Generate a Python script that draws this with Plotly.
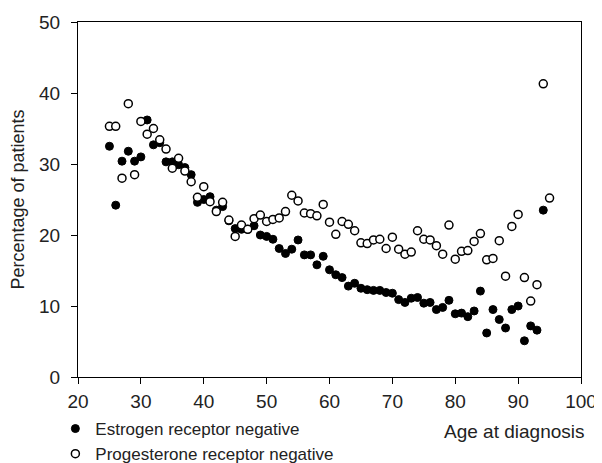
import plotly.graph_objects as go

ages = list(range(25, 96))

er_negative = [32.5, 24.2, 30.4, 31.8, 30.4, 31.0, 36.2, 32.7, 33.0, 30.3,
               30.3, 29.9, 29.5, 28.5, 24.6, 25.0, 25.4, 23.5, 24.0, 22.0,
               20.9, 20.8, 20.8, 21.3, 20.0, 19.8, 19.4, 18.1, 17.4, 18.0,
               19.3, 17.2, 17.2, 15.8, 17.0, 15.1, 14.4, 14.0, 12.8, 13.2,
               12.5, 12.3, 12.2, 12.2, 11.9, 11.8, 10.9, 10.5, 11.1, 11.2,
               10.4, 10.5, 9.5, 9.8, 10.8, 8.9, 9.0, 8.5, 9.3, 12.1,
               6.2, 9.5, 8.1, 6.9, 9.5, 10.0, 5.1, 7.2, 6.6, 23.5,
               None]

pr_negative = [35.3, 35.3, 28.0, 38.5, 28.5, 36.0, 34.2, 35.0, 33.4, 32.1,
               29.4, 30.8, 29.0, 27.5, 25.3, 26.8, 24.7, 23.3, 24.6, 22.1,
               19.8, 21.4, 20.8, 22.3, 22.8, 21.9, 22.2, 22.4, 23.3, 25.6,
               24.8, 23.1, 23.0, 22.7, 24.3, 21.8, 20.1, 21.9, 21.5, 20.6,
               18.9, 18.8, 19.3, 19.4, 18.1, 19.7, 18.0, 17.3, 17.6, 20.6,
               19.4, 19.3, 18.5, 17.3, 21.4, 16.6, 17.7, 17.8, 19.1, 20.2,
               16.5, 16.7, 19.2, 14.2, 21.2, 22.9, 14.0, 10.7, 13.0, 41.3,
               25.2]

x_ticks = [20, 30, 40, 50, 60, 70, 80, 90, 100]
y_ticks = [0, 10, 20, 30, 40, 50]

FONT = "Liberation Sans, Arial, sans-serif"
TXT = "#222222"

W, H = 594, 468
ML, MR, MT = 70, 21, 14
PAPER_H = H - MT
PLOT_BOTTOM = 369  # figure pixel of y = 0

fig = go.Figure()
fig.add_trace(go.Scatter(
    x=ages, y=er_negative, mode="markers",
    name="Estrogen receptor negative",
    marker=dict(symbol="circle", size=8, color="black",
                line=dict(color="black", width=1)),
))
fig.add_trace(go.Scatter(
    x=ages, y=pr_negative, mode="markers",
    name="Progesterone receptor negative",
    marker=dict(symbol="circle", size=8, color="white",
                line=dict(color="black", width=1.5)),
))

fig.update_layout(
    width=W, height=H,
    margin=dict(l=ML, r=MR, t=MT, b=0, pad=0),
    paper_bgcolor="white", plot_bgcolor="white",
    font=dict(family=FONT, size=17, color=TXT),
    showlegend=True,
    legend=dict(
        x=-0.045, y=(H - 403) / PAPER_H, xanchor="left", yanchor="top",
        orientation="v", bgcolor="rgba(0,0,0,0)",
        font=dict(size=17, color=TXT), itemsizing="trace",
        tracegroupgap=0,
    ),
    xaxis=dict(
        range=[20, 100], tickvals=x_ticks, ticktext=[str(v) for v in x_ticks],
        showline=True, linecolor="black", linewidth=1, mirror=True,
        ticks="outside", ticklen=6, tickcolor="black",
        showgrid=False, zeroline=False, automargin=False,
        ticklabelstandoff=1,
        tickfont=dict(size=19, color=TXT),
    ),
    yaxis=dict(
        range=[0, 50], tickvals=y_ticks, ticktext=[str(v) for v in y_ticks],
        domain=[(H - PLOT_BOTTOM) / PAPER_H, 1],
        showline=True, linecolor="black", linewidth=1, mirror=True,
        ticks="outside", ticklen=6, tickcolor="black",
        showgrid=False, zeroline=False, automargin=False,
        ticklabelstandoff=7,
        tickfont=dict(size=19, color=TXT),
        title=dict(text="Percentage of patients", font=dict(size=18, color=TXT),
                   standoff=12),
    ),
    annotations=[dict(
        text="Age at diagnosis", xref="paper", yref="paper",
        x=1.012, y=(H - 423) / PAPER_H, xanchor="right", yanchor="middle",
        showarrow=False, font=dict(size=19, color=TXT),
    )],
)

fig.write_html("out.html")
